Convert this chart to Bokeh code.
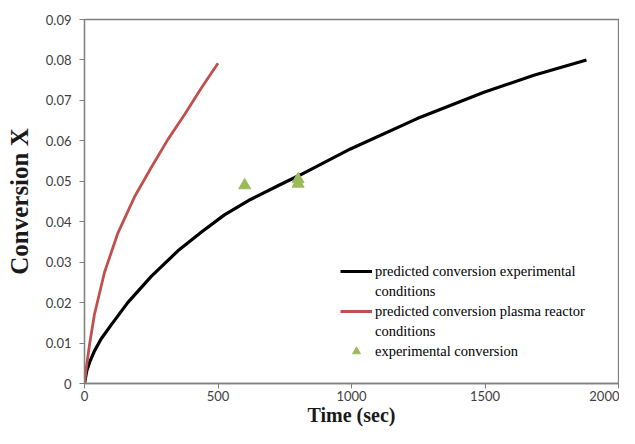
from bokeh.plotting import figure
from bokeh.models import Range1d, FixedTicker, Legend, LegendItem
from bokeh.embed import file_html
from bokeh.resources import INLINE

# Data
t_exp_pred = [0, 8, 19, 37, 62, 100, 162, 250, 350, 437, 524, 622, 734, 809, 996, 1246, 1496, 1683, 1880]
x_exp_pred = [0, 0.0030, 0.0052, 0.0080, 0.0110, 0.0145, 0.0200, 0.0265, 0.0328, 0.0374, 0.0417,
              0.0455, 0.0492, 0.0516, 0.0580, 0.0655, 0.0720, 0.0762, 0.0800]

t_plasma = [0, 6, 19, 37, 75, 125, 187, 250, 312, 375, 437, 500]
x_plasma = [0, 0.0035, 0.0097, 0.0170, 0.0275, 0.0372, 0.0461, 0.0534, 0.0603, 0.0665, 0.0730, 0.0792]

t_meas = [600, 800, 800]
x_meas = [0.0490, 0.0505, 0.0494]

x_ticks = [0, 500, 1000, 1500, 2000]
y_ticks = [0, 0.01, 0.02, 0.03, 0.04, 0.05, 0.06, 0.07, 0.08, 0.09]
y_tick_labels = ["0", "0.01", "0.02", "0.03", "0.04", "0.05", "0.06", "0.07", "0.08", "0.09"]

p = figure(width=619, height=428, output_backend="svg", toolbar_location=None,
           x_range=Range1d(0, 2000), y_range=Range1d(0, 0.09),
           min_border_left=84, min_border_right=1, min_border_top=19, min_border_bottom=40)
p.xgrid.visible = False
p.ygrid.visible = False
p.outline_line_color = "#808080"
p.outline_line_width = 1.3
p.background_fill_color = "white"
p.border_fill_color = "white"

for ax in (p.xaxis[0], p.yaxis[0]):
    ax.axis_line_color = "#808080"
    ax.axis_line_width = 1.3
    ax.major_tick_line_color = "#808080"
    ax.major_tick_out = 5
    ax.major_tick_in = 0
    ax.minor_tick_line_color = None
    ax.major_label_text_font = "Lato"
    ax.major_label_text_font_size = "13px"
    ax.major_label_text_color = "#404040"
    ax.axis_label_text_font = "Liberation Serif"
    ax.axis_label_text_font_style = "bold"
    ax.axis_label_text_color = "#1a1a1a"

p.xaxis.ticker = FixedTicker(ticks=x_ticks)
p.yaxis.ticker = FixedTicker(ticks=y_ticks)
p.yaxis.major_label_overrides = {t: l for t, l in zip(y_ticks, y_tick_labels)}
p.xaxis.axis_label = "Time (sec)"
p.yaxis.axis_label = "Conversion X"
p.xaxis.axis_label_text_font_size = "20px"
p.yaxis.axis_label_text_font_size = "25px"
p.xaxis.major_label_standoff = 2
p.yaxis.major_label_standoff = 8
p.xaxis.axis_label_standoff = 0
p.yaxis.axis_label_standoff = 10

r_black = p.line(t_exp_pred, x_exp_pred, line_color="black", line_width=3.2)
r_red = p.line(t_plasma, x_plasma, line_color="#C0504D", line_width=2.8)
r_tri = p.scatter(t_meas, x_meas, marker="triangle", size=12, fill_color="#9BBB59",
                  line_color="#9BBB59")
r_blank = p.line([], [], line_alpha=0)

legend = Legend(items=[
    LegendItem(label="predicted conversion experimental", renderers=[r_black]),
    LegendItem(label="conditions", renderers=[r_blank]),
    LegendItem(label="predicted conversion plasma reactor", renderers=[r_red]),
    LegendItem(label="conditions", renderers=[r_blank]),
    LegendItem(label="experimental conversion", renderers=[r_tri]),
], location=(256, 22))
legend.border_line_color = None
legend.background_fill_alpha = 0
legend.label_text_font = "Liberation Serif"
legend.label_text_font_size = "14.5px"
legend.label_text_color = "black"
legend.glyph_width = 32
legend.glyph_height = 20
legend.label_height = 20
legend.label_standoff = 3
legend.spacing = 0
legend.padding = 0
legend.margin = 0
p.add_layout(legend)

open("out.html", "w").write(file_html(p, INLINE))
